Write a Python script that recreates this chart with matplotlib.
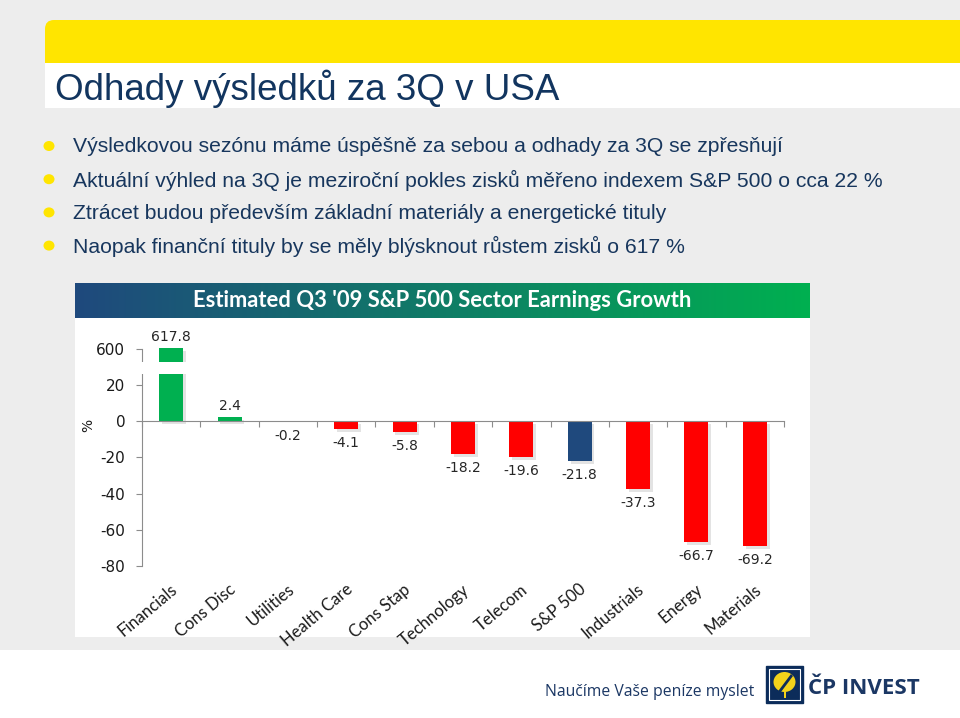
import numpy as np
import matplotlib.pyplot as plt
import matplotlib.patheffects as pe
import matplotlib.transforms as mtransforms
from matplotlib.patches import FancyBboxPatch, Rectangle, Ellipse, Polygon

# Data
sectors = ['Financials', 'Cons Disc', 'Utilities', 'Health Care', 'Cons Stap',
           'Technology', 'Telecom', 'S&P 500', 'Industrials', 'Energy', 'Materials']
growth = [617.8, 2.4, -0.2, -4.1, -5.8, -18.2, -19.6, -21.8, -37.3, -66.7, -69.2]
bar_colors = ['#00B050', '#00B050', '#FF0000', '#FF0000', '#FF0000', '#FF0000',
              '#FF0000', '#1F497D', '#FF0000', '#FF0000', '#FF0000']
y_ticks = [600, 20, 0, -20, -40, -60, -80]

slide_title = 'Odhady výsledků za 3Q v USA'
bullets = [
    'Výsledkovou sezónu máme úspěšně za sebou a odhady za 3Q se zpřesňují',
    'Aktuální výhled na 3Q je meziroční pokles zisků měřeno indexem S&P 500 o cca 22 %',
    'Ztrácet budou především základní materiály a energetické tituly',
    'Naopak finanční tituly by se měly blýsknout růstem zisků o 617 %',
]
chart_title = "Estimated Q3 '09 S&P 500 Sector Earnings Growth"

NAVY = '#12355F'
YELLOW = '#FFE500'


# broken axis: everything above 20 is squeezed so 600 sits one step above 20
def fwd(y):
    y = np.asarray(y, dtype=float)
    return np.where(y > 20, 20 + (y - 20) * 20 / 580, y)


def inv(d):
    d = np.asarray(d, dtype=float)
    return np.where(d > 20, 20 + (d - 20) * 580 / 20, d)


fig = plt.figure(figsize=(9.6, 7.18), dpi=100)
fig.patch.set_facecolor('white')

# slide background in pixel coordinates
bg = fig.add_axes([0, 0, 1, 1], zorder=0)
bg.set_xlim(0, 960)
bg.set_ylim(718, 0)
bg.axis('off')
bg.add_patch(Rectangle((0, 0), 960, 650, color='#EDEDED', lw=0))
bg.add_patch(FancyBboxPatch((45, 20), 960, 60, boxstyle='round,pad=0,rounding_size=9',
                            fc=YELLOW, ec='none'))
bg.add_patch(Rectangle((45, 63), 915, 45, color='white', lw=0))
bg.text(55, 89, slide_title, fontsize=26.5, color=NAVY, family='Liberation Sans',
        va='center', ha='left')

for i, line in enumerate(bullets):
    yy = 147 + i * 33.2
    bg.add_patch(Ellipse((49, yy - 1), 11, 10, color=YELLOW, lw=0))
    bg.text(73, yy, line, fontsize=15.2, color='#17365D', family='Liberation Sans',
            va='center', ha='left')

# chart frame
bg.add_patch(Rectangle((75, 283), 735, 354, color='white', lw=0))

# footer
bg.text(545, 692, 'Naučíme Vaše peníze myslet', fontsize=11.3, color='#1B3764',
        family='Open Sans', va='center', ha='left')
bg.add_patch(Rectangle((766, 666), 37, 37, fc='#0C2C5A', ec='#0C2C5A', lw=1))
bg.add_patch(Rectangle((769, 669), 31, 31, fc='none', ec='white', lw=0.8))
bg.add_patch(Ellipse((784.5, 682), 22, 20, color='#F2D21B', lw=0))
bg.add_patch(Polygon([(776, 694), (778, 696), (793, 676), (791, 674)], color='#0C2C5A', lw=0))
bg.add_patch(Rectangle((783.5, 690), 2, 8, color='#F2D21B', lw=0))
bg.text(808, 689, 'ČP INVEST', fontsize=16, fontweight='bold', color='#1B3764',
        family='Open Sans', va='center', ha='left')

# gradient title banner
gax = fig.add_axes([75 / 960, (718 - 318) / 718, 735 / 960, 35 / 718], zorder=1)
grad = np.linspace(0, 1, 256)[None, :, None]
c0 = np.array([31, 73, 125]) / 255
c1 = np.array([0, 176, 80]) / 255
gax.imshow(c0 + (c1 - c0) * grad, aspect='auto', extent=(0, 1, 0, 1))
gax.axis('off')
gax.text(0.5, 0.5, chart_title, color='white', fontsize=15.8, fontweight='bold',
         family='Lato', ha='center', va='center')

# bar chart
ax = fig.add_axes([142 / 960, (718 - 566) / 718, 642 / 960, 219 / 718], zorder=2)
ax.patch.set_alpha(0)
ax.set_yscale('function', functions=(fwd, inv))
x = np.arange(len(sectors))
shadow = [pe.SimplePatchShadow(offset=(2, -2), shadow_rgbFace='#909090', alpha=0.25),
          pe.Normal()]
bars = ax.bar(x, growth, width=0.41, color=bar_colors, zorder=2, path_effects=shadow)

ax.set_xlim(-0.5, len(sectors) - 0.5)
ax.set_ylim(-80, 632)

# white gap for the axis break
ax.axhspan(200, 390, xmin=-0.015, xmax=1, color='white', lw=0, zorder=3, clip_on=False)

for xi, v in zip(x, growth):
    off = 3 if v > 0 else -5
    ax.annotate(f'{v:.1f}', (xi, v), xytext=(0, off), textcoords='offset points',
                ha='center', va='bottom' if v > 0 else 'top', fontsize=10,
                color='#262626', annotation_clip=False)

ax.spines['top'].set_visible(False)
ax.spines['right'].set_visible(False)
ax.spines['left'].set_bounds(-80, 600)
ax.spines['left'].set_color('#8C8C8C')
ax.spines['bottom'].set_position(('data', 0))
ax.spines['bottom'].set_color('#8C8C8C')

ax.set_yticks(y_ticks)
ax.set_yticklabels([str(t) for t in y_ticks])
ax.yaxis.set_minor_locator(plt.NullLocator())
ax.tick_params(axis='y', length=4, color='#8C8C8C', labelsize=11, labelcolor='#1A1A1A', pad=8)
ax.set_xticks(np.arange(-0.5, len(sectors), 1.0))
ax.set_xticklabels([])
ax.tick_params(axis='x', length=4, color='#8C8C8C')

trans = mtransforms.blended_transform_factory(ax.transData, ax.transAxes)
for xi, name in zip(x, sectors):
    ax.text(xi - 0.02, -0.07, name, transform=trans, rotation=40, rotation_mode='anchor',
            ha='right', va='top', fontsize=12, family='Lato', color='#1A1A1A')

ax.text(-0.084, 0.644, '%', transform=ax.transAxes, rotation=90, fontsize=10,
        ha='center', va='center', color='#1A1A1A')

fig.savefig('out.png', dpi=100)
